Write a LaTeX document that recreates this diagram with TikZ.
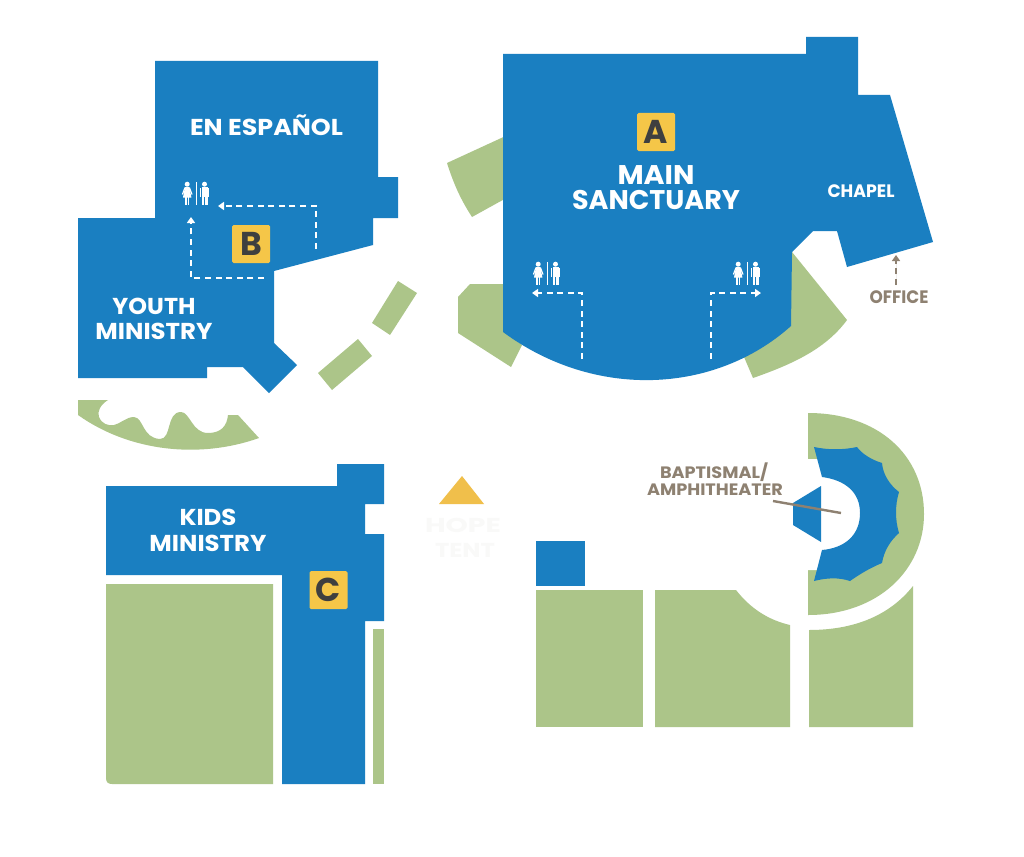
\documentclass[tikz,border=0pt]{standalone}
\usepackage{fontspec}
\usepackage{graphicx}
\usetikzlibrary{arrows.meta}
\setmainfont{Poppins}
\definecolor{bluea}{HTML}{1A7FC1}
\definecolor{greena}{HTML}{ACC589}
\definecolor{golda}{HTML}{F5C648}
\definecolor{goldb}{HTML}{F0BF4B}
\definecolor{darka}{HTML}{3F3F3F}
\definecolor{tana}{HTML}{8E8171}
\definecolor{ghosta}{HTML}{F9F9F8}
\newcommand{\fw}[2]{\resizebox{#1pt}{\height}{\bfseries #2}}
\tikzset{
  bld/.style={fill=bluea,draw=none},
  grn/.style={fill=greena,draw=none},
  lbl/.style={text=white,inner sep=0pt,font=\fontsize{#1}{#1}\selectfont},
  lbl/.default=24,
  tanlbl/.style={text=tana,inner sep=0pt,font=\fontsize{#1}{#1}\selectfont},
  ghost/.style={text=ghosta,inner sep=0pt,font=\fontsize{20}{20}\selectfont},
  badge/.style={fill=golda,rounded corners=1.5pt,minimum size=38pt,inner sep=0pt,text=darka,font=\fontsize{33}{33}\selectfont\bfseries},
  route/.style={draw=white,line width=2.4pt,dash pattern=on 6pt off 4.6pt},
  routeh/.style={route,-{Triangle[length=6pt,width=8pt]}},
  restroom/.pic={
    \fill[white] (-8.8,2.2) circle (2.5);
    \fill[white] (-11,5.2) -- (-6.6,5.2) -- (-4.6,15.5) -- (-13,15.5) -- cycle;
    \fill[white] (-11,15) rectangle (-9.2,23);
    \fill[white] (-8.4,15) rectangle (-6.6,23);
    \draw[white,line width=1.2pt] (-11,5.6) -- (-13.6,12.5);
    \draw[white,line width=1.2pt] (-6.6,5.6) -- (-4,12.5);
    \fill[white] (-.5,0) rectangle (.5,23);
    \fill[white] (8.5,2.2) circle (2.5);
    \fill[white] (5.5,5) rectangle (11.5,14.5);
    \fill[white] (5.5,14) rectangle (8.2,23);
    \fill[white] (8.8,14) rectangle (11.5,23);
    \fill[white] (4,5.5) rectangle (5.2,14.5);
    \fill[white] (11.8,5.5) rectangle (13,14.5);
  }
}
\begin{document}
\begin{tikzpicture}[x=1pt,y=-1pt]
\useasboundingbox (0,0) rectangle (1024,856);
\fill[white] (0,0) rectangle (1024,856);
% ---- green around the sanctuary
\fill[grn] (510,134) -- (447,163) .. controls (454,185) and (461,200) .. (472,217) -- (510,196) -- cycle;
\fill[grn] (510,284) -- (470,284) -- (458,297) -- (458,333) -- (511,367) -- (522,345) -- (510,335) -- cycle;
\fill[grn] (780,250) -- (792,252) -- (847,320) .. controls (825,350) and (790,365) .. (753,378) -- (744,357) -- (780,335) -- cycle;
% ---- main sanctuary
\fill[bld] (503,54) -- (806,54) -- (806,37) -- (858,37) -- (858,95) -- (890,95) -- (933,242) -- (847,267) -- (837,231) -- (813,231) -- (792,252) -- (791,326) .. controls (715,394) and (595,400) .. (503,332) -- cycle;
% ---- espanol / youth
\fill[bld] (155,61) -- (378,61) -- (378,177) -- (398,177) -- (398,218) -- (373,218) -- (373,245) -- (274,271) -- (274,343) -- (297,365) -- (269,393) -- (243,367) -- (207,367) -- (207,378) -- (78,378) -- (78,218) -- (155,218) -- cycle;
% ---- walkway strips
\fill[grn] (398,281) -- (417,293) -- (390,335) -- (372,323) -- cycle;
\fill[grn] (358,339) -- (372,356) -- (332,390) -- (318,373) -- cycle;
% ---- wavy garden
\fill[grn] (78,400) -- (108,400) .. controls (100,405) and (97,412) .. (99,417)
  .. controls (102,424) and (108,426) .. (114,425) .. controls (120,424) and (126,417) .. (134,417)
  .. controls (144,418) and (142,438) .. (160,439) .. controls (172,439) and (166,412) .. (181,412)
  .. controls (190,412) and (192,433) .. (208,433) .. controls (221,433) and (227,426) .. (228,415)
  -- (238,415) -- (259,438) .. controls (200,459) and (130,452) .. (78,415) -- cycle;
% ---- kids
\fill[bld] (106,486) -- (337,486) -- (337,464) -- (384,464) -- (384,504) -- (365,504) -- (365,534) -- (384,534) -- (384,621) -- (365,621) -- (365,784) -- (282,784) -- (282,575) -- (106,575) -- cycle;
\fill[grn] (106,584) -- (273,584) -- (273,784) -- (112,784) .. controls (108,784) and (106,782) .. (106,778) -- cycle;
\fill[grn] (373,629) rectangle (384,784);
% ---- bottom right
\fill[bld] (536,541) rectangle (585,586);
\fill[grn] (536,590) rectangle (643,727);
\fill[grn] (655,590) -- (736,590) .. controls (750,608) and (768,620) .. (790,625) -- (790,727) -- (655,727) -- cycle;
\fill[grn] (809,630) .. controls (855,630) and (890,615) .. (913,586) -- (913,727) -- (809,727) -- cycle;
\fill[grn] (808,413) .. controls (878,413) and (924,455) .. (924,514) .. controls (924,570) and (878,615) .. (808,615) -- cycle;
% white court inside the amphitheatre
\fill[white] (807,459) -- (825,459) -- (825,477) .. controls (848,480) and (862,492) .. (862,513) .. controls (862,535) and (848,548) .. (825,550) -- (825,570) -- (807,570) -- cycle;
\fill[bld] (814,447) .. controls (828,450) and (843,450) .. (857,447) .. controls (862,454) and (872,460) .. (882,463) .. controls (883,475) and (890,485) .. (899,492) .. controls (895,505) and (895,520) .. (899,533) .. controls (890,541) and (884,551) .. (882,563) .. controls (870,568) and (860,574) .. (850,581) .. controls (838,577) and (826,578) .. (814,581) -- (822,550) .. controls (845,548) and (860,535) .. (860,513) .. controls (860,492) and (845,480) .. (822,477) -- cycle;
\fill[bld] (821,486) -- (793,503) -- (793,525) -- (821,542) -- cycle;
\coordinate (lineA) at (773,501);
\coordinate (lineB) at (841,513);
\draw[tana,line width=2.4pt] (lineA) -- (lineB);
% ---- logo
\fill[goldb] (462,476) -- (484,504) -- (439,504) -- cycle;
\node[ghost] (hope) at (463,525) {\fw{76}{HOPE}};
\node[ghost] (tent) at (465,550) {\fw{60}{TENT}};
% ---- badges
\node[badge] (ba) at (656,132) {A};
\node[badge] (bb) at (251,244) {B};
\node[badge] (bc) at (328.5,590) {C};
% ---- labels
\node[lbl=27] (main) at (656,175) {\fw{77}{MAIN}};
\node[lbl=27] (sanct) at (656,200) {\fw{168}{SANCTUARY}};
\node[lbl=18] (chapel) at (861,191) {\fw{67}{CHAPEL}};
\node[tanlbl=18] (office) at (899,297) {\fw{59}{OFFICE}};
\node[lbl=23] (esp) at (266.5,125.5) {\fw{153}{EN ESPAÑOL}};
\node[lbl=23] (youth) at (154,306) {\fw{83}{YOUTH}};
\node[lbl=23] (yminist) at (154,331) {\fw{117}{MINISTRY}};
\node[lbl=23] (kids) at (208,517) {\fw{57}{KIDS}};
\node[lbl=23] (kminist) at (208,543) {\fw{117}{MINISTRY}};
\node[tanlbl=16.5] (bapt) at (714,472.5) {\fw{108}{BAPTISMAL/}};
\node[tanlbl=16.5] (amph) at (715,489.5) {\fw{136}{AMPHITHEATER}};
% ---- routes
\coordinate (b1) at (316,249); \coordinate (b2) at (316,206); \coordinate (b3) at (218,206);
\draw[routeh] (b1) -- (b2) -- (b3);
\coordinate (c1) at (264,278); \coordinate (c2) at (191,278); \coordinate (c3) at (191,217);
\draw[routeh] (c1) -- (c2) -- (c3);
\coordinate (l1) at (582,359); \coordinate (l2) at (582,293); \coordinate (l3) at (532,293);
\draw[routeh] (l1) -- (l2) -- (l3);
\coordinate (r1) at (711,359); \coordinate (r2) at (711,293); \coordinate (r3) at (761,293);
\draw[routeh] (r1) -- (r2) -- (r3);
\coordinate (o1) at (896,285); \coordinate (o2) at (896,255);
\draw[routeh,draw=tana,fill=tana] (o1) -- (o2);
% ---- restroom signs
\pic at (196,182) {restroom};
\pic at (547,262) {restroom};
\pic at (747,262) {restroom};
\end{tikzpicture}
\end{document}
